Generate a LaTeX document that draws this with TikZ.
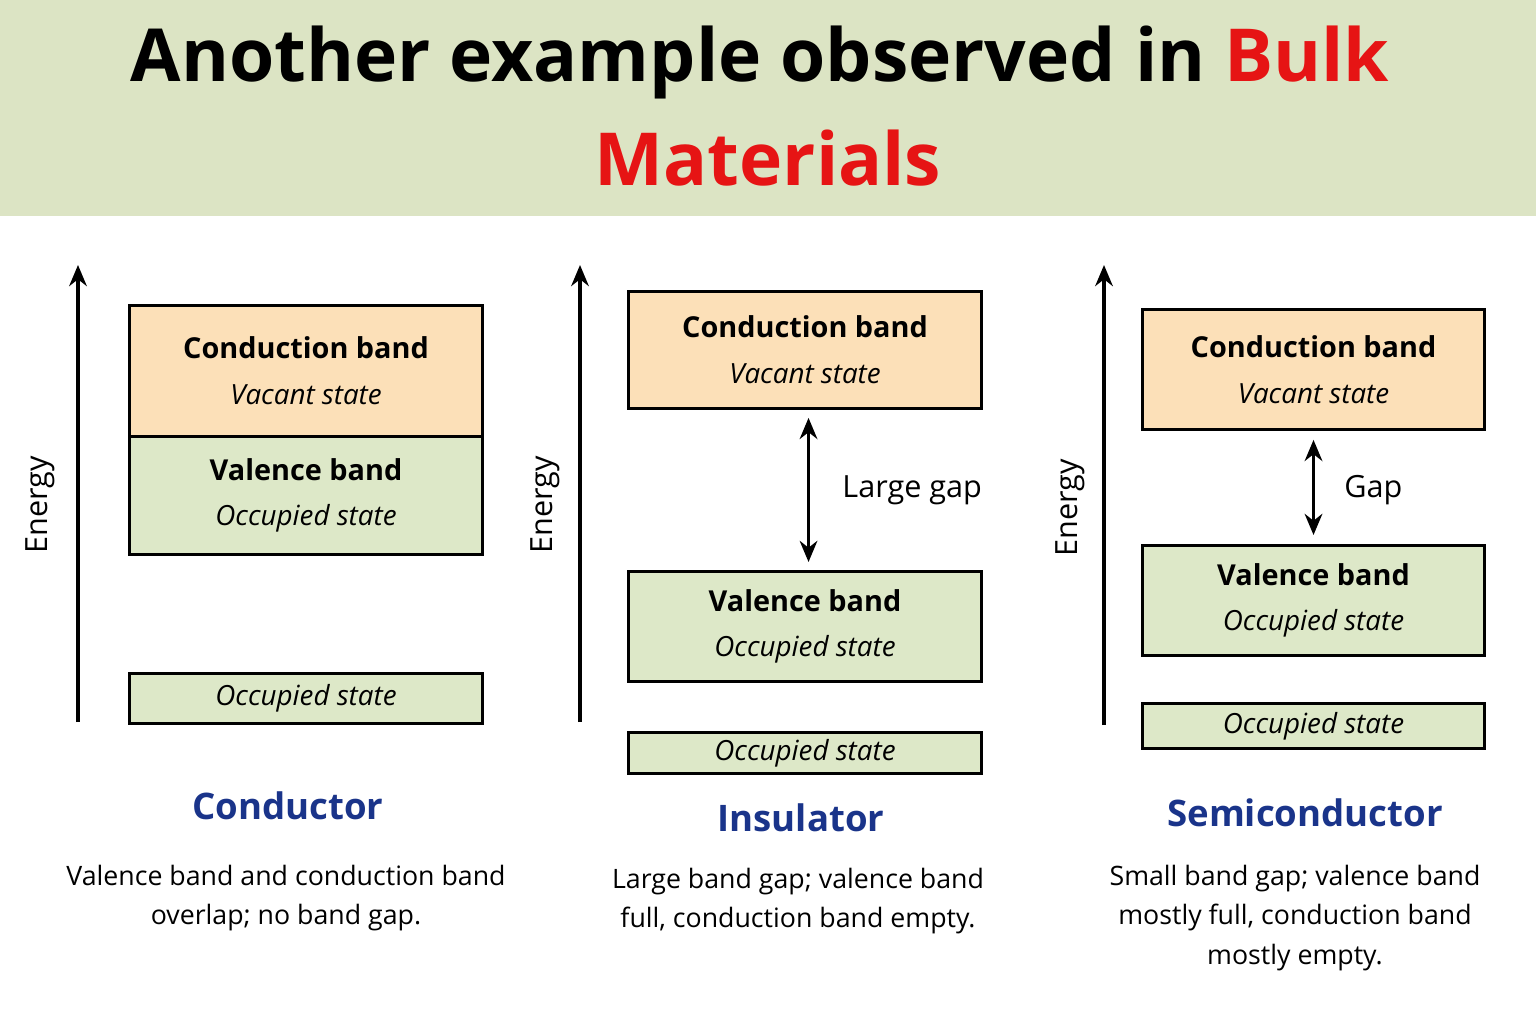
\documentclass[tikz,border=0pt]{standalone}
\usepackage{fontspec}
\setmainfont{Open Sans}
\usetikzlibrary{positioning, arrows.meta}
\definecolor{headgreen}{RGB}{220,228,196}
\definecolor{bandorange}{RGB}{252,224,184}
\definecolor{bandgreen}{RGB}{221,232,200}
\definecolor{titlered}{RGB}{230,20,20}
\definecolor{labelblue}{RGB}{26,52,138}
\newcommand{\bandtext}[2]{{\fontsize{8.2}{13}\selectfont\bfseries #1}\\[1pt]{\fontsize{7.9}{11}\selectfont\itshape #2}}
\begin{document}
\begin{tikzpicture}[
        x = 0.01cm, y = -0.01cm, % pixel grid
        > = {Stealth[length=6pt, width=5pt]},
        band/.style = {draw = black, line width = 0.8pt, inner sep = 0pt,
            align = center, anchor = north west},
        axis/.style = {->, line width = 1.3pt},
        gaparrow/.style = {<->, line width = 1pt},
        energy/.style = {rotate = 90, font = \fontsize{8.7}{11}\selectfont},
        kind/.style = {text = labelblue, font = \fontsize{10.4}{13}\selectfont\bfseries},
        desc/.style = {align = center, font = \fontsize{7.6}{11.3}\selectfont}
    ]

    \useasboundingbox (0,0) rectangle (1536,1024);
    \fill[headgreen] (0,0) rectangle (1536,216);
    \node (title1) at (760,62) {\fontsize{20.8}{24}\selectfont\bfseries Another example observed in \textcolor{titlered}{Bulk}};
    \node (title2) at (768,158) {\fontsize{20.8}{24}\selectfont\bfseries\textcolor{titlered}{Materials}};

    % conductor
    \coordinate (a1) at (78,722); \coordinate (a1top) at (78,265);
    \draw[axis] (a1) -- (a1top);
    \node[energy] (e1) at (40,505) {Energy};
    \node[band, fill = bandorange, minimum width = 3.53cm, minimum height = 1.31cm]
        (cb1) at (128,304) {\bandtext{Conduction band}{Vacant state}};
    \node[band, fill = bandgreen, minimum width = 3.53cm, minimum height = 1.18cm]
        (vb1) at (128,435) {\bandtext{Valence band}{Occupied state}};
    \node[band, fill = bandgreen, minimum width = 3.53cm, minimum height = 0.50cm,
        font = \fontsize{7.9}{11}\selectfont\itshape] (ob1) at (128,672) {Occupied state};
    \node[kind] (k1) at (288,806) {Conductor};
    \node[desc] (d1) at (286,898) {Valence band and conduction band\\overlap; no band gap.};

    % insulator
    \coordinate (a2) at (580,722); \coordinate (a2top) at (580,265);
    \draw[axis] (a2) -- (a2top);
    \node[energy] (e2) at (545,505) {Energy};
    \node[band, fill = bandorange, minimum width = 3.53cm, minimum height = 1.17cm]
        (cb2) at (627,290) {\bandtext{Conduction band}{Vacant state}};
    \node[band, fill = bandgreen, minimum width = 3.53cm, minimum height = 1.10cm]
        (vb2) at (627,570) {\bandtext{Valence band}{Occupied state}};
    \node[band, fill = bandgreen, minimum width = 3.53cm, minimum height = 0.41cm,
        font = \fontsize{7.9}{11}\selectfont\itshape] (ob2) at (627,731) {Occupied state};
    \draw[gaparrow] ([xshift=1pt, yshift=-0.8mm]cb2.south) -- ([xshift=1pt, yshift=0.8mm]vb2.north);
    \node[anchor = west, font = \fontsize{8.7}{11}\selectfont] (g2) at (830,490) {Large gap};
    \node[kind] (k2) at (801,818) {Insulator};
    \node[desc] (d2) at (798,901) {Large band gap; valence band\\full, conduction band empty.};

    % semiconductor
    \coordinate (a3) at (1104,725); \coordinate (a3top) at (1104,265);
    \draw[axis] (a3) -- (a3top);
    \node[energy] (e3) at (1070,508) {Energy};
    \node[band, fill = bandorange, minimum width = 3.42cm, minimum height = 1.20cm]
        (cb3) at (1141,308) {\bandtext{Conduction band}{Vacant state}};
    \node[band, fill = bandgreen, minimum width = 3.42cm, minimum height = 1.10cm]
        (vb3) at (1141,544) {\bandtext{Valence band}{Occupied state}};
    \node[band, fill = bandgreen, minimum width = 3.42cm, minimum height = 0.45cm,
        font = \fontsize{7.9}{11}\selectfont\itshape] (ob3) at (1141,702) {Occupied state};
    \draw[gaparrow] ([yshift=-0.9mm]cb3.south) -- ([yshift=0.9mm]vb3.north);
    \node[anchor = west, font = \fontsize{8.7}{11}\selectfont] (g3) at (1332,490) {Gap};
    \node[kind] (k3) at (1305,813) {Semiconductor};
    \node[desc] (d3) at (1295,918) {Small band gap; valence band\\mostly full, conduction band\\mostly empty.};

\end{tikzpicture}
\end{document}
